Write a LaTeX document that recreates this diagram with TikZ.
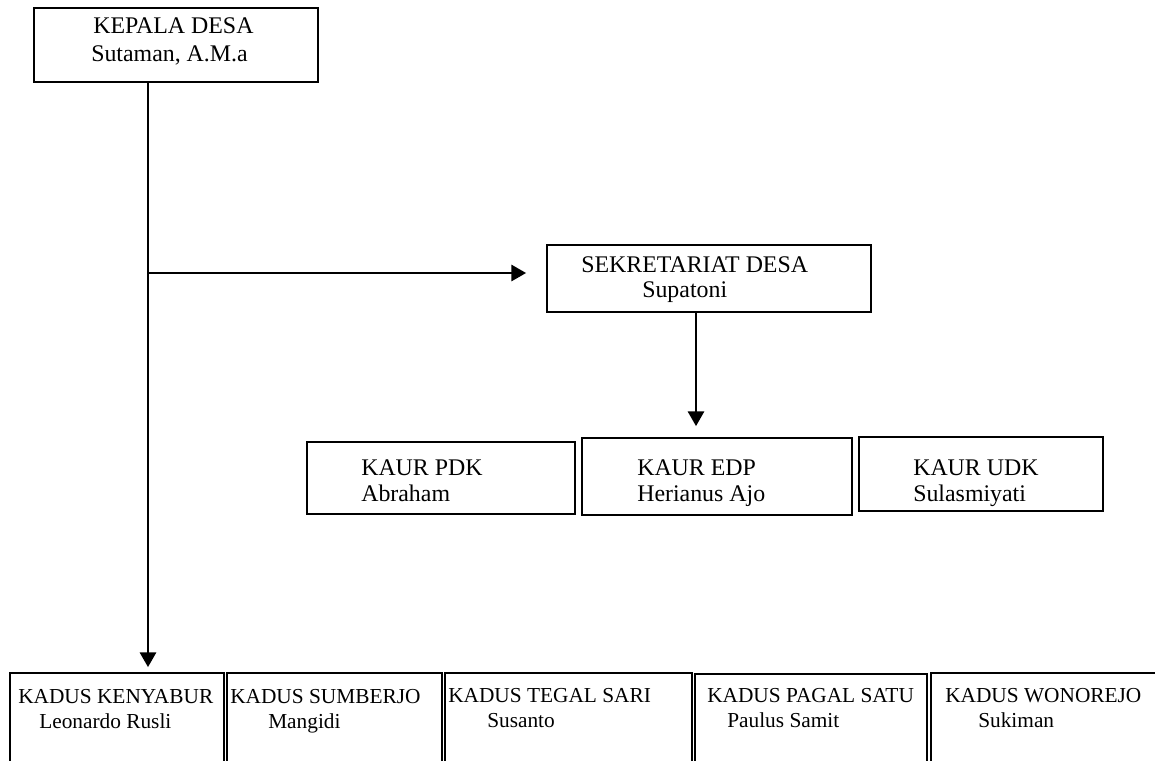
\documentclass[tikz,border=0pt]{standalone}
\usepackage{fontspec}
\setmainfont{Liberation Serif}
\usetikzlibrary{fit,arrows.meta}
\begin{document}
\begin{tikzpicture}[x=0.75pt,y=-0.75pt,
  box/.style={draw,line width=1.3pt,inner sep=0pt},
  big/.style={anchor=base west,inner sep=0pt,font=\fontsize{17.9pt}{20pt}\selectfont},
  small/.style={anchor=base west,inner sep=0pt,font=\fontsize{16pt}{18pt}\selectfont},
  conn/.style={line width=1.9pt,-{Triangle[length=11pt,width=12pt]}}]
\useasboundingbox (0,0) rectangle (1155,760);
% top
\node[box,fit={(34,8)(318,82)}] (kepala) {};
\node[big] (kepalaA) at (93,33) {KEPALA DESA};
\node[big] (kepalaB) at (91,61) {Sutaman, A.M.a};
% sekretariat
\node[box,fit={(547,245)(871,312)}] (sekre) {};
\node[big] (sekreA) at (581,272) {SEKRETARIAT DESA};
\node[big] (sekreB) at (642,297) {Supatoni};
% kaur
\node[box,fit={(307,442)(575,514)}] (pdk) {};
\node[big] (pdkA) at (361,475) {KAUR PDK};
\node[big] (pdkB) at (361,501) {Abraham};
\node[box,fit={(582,438)(852,515)}] (edp) {};
\node[big] (edpA) at (637,475) {KAUR EDP};
\node[big] (edpB) at (637,501) {Herianus Ajo};
\node[box,fit={(859,437)(1103,511)}] (udk) {};
\node[big] (udkA) at (913,475) {KAUR UDK};
\node[big] (udkB) at (913,501) {Sulasmiyati};
% kadus
\node[box,fit={(10,673)(224,765)}] (k1) {};
\node[small] (k1A) at (18,703) {KADUS KENYABUR};
\node[small] (k1B) at (39,728) {Leonardo Rusli};
\node[box,fit={(227,673)(442,765)}] (k2) {};
\node[small] (k2A) at (230,703) {KADUS SUMBERJO};
\node[small] (k2B) at (268,728) {Mangidi};
\node[box,fit={(445,673)(692,765)}] (k3) {};
\node[small] (k3A) at (448,702) {KADUS TEGAL SARI};
\node[small] (k3B) at (487,727) {Susanto};
\node[box,fit={(695,674)(927,765)}] (k4) {};
\node[small] (k4A) at (707,702) {KADUS PAGAL SATU};
\node[small] (k4B) at (727,727) {Paulus Samit};
\node[box,fit={(931,673)(1165,765)}] (k5) {};
\node[small] (k5A) at (945,702) {KADUS WONOREJO};
\node[small] (k5B) at (978,727) {Sukiman};
% connectors
\coordinate (trunk) at (148,273);
\coordinate (s1) at (696,312);
\draw[conn] (trunk |- kepala.south) -- ([yshift=3.75pt]trunk |- k1.north);
\draw[conn] (trunk) -- ([xshift=-15pt]sekre.west |- trunk);
\draw[conn] (s1 |- sekre.south) -- ([yshift=8.25pt]s1 |- edp.north);
\end{tikzpicture}
\end{document}
